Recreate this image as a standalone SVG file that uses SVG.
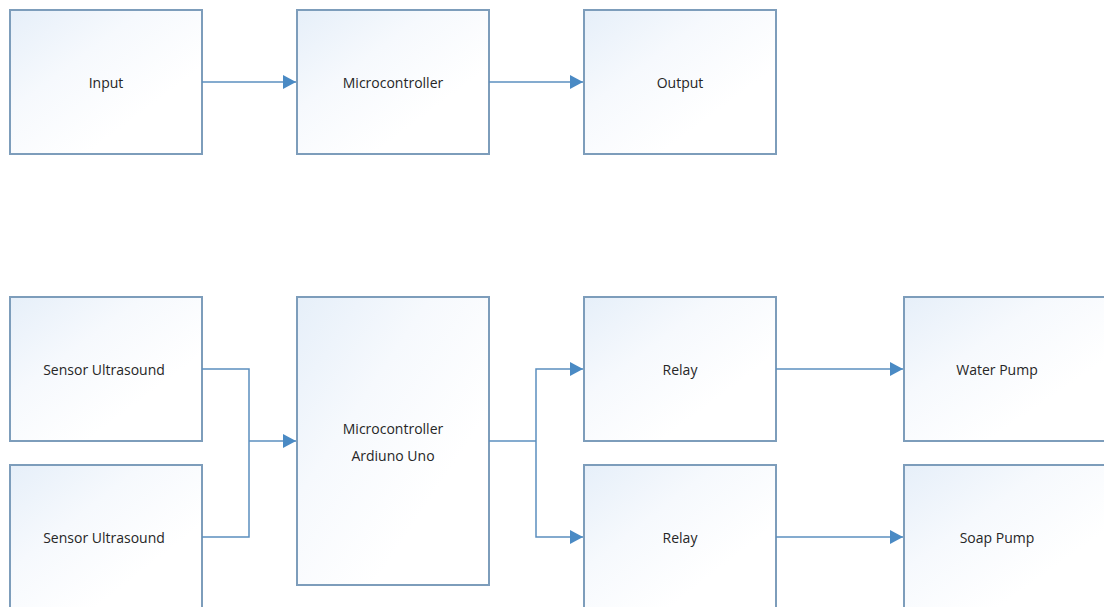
<svg xmlns="http://www.w3.org/2000/svg" width="1104" height="607" viewBox="0 0 1104 607">
<defs>
<linearGradient id="g" x1="0" y1="0" x2="1" y2="1">
<stop offset="0" stop-color="#e6eff9"/>
<stop offset="0.35" stop-color="#f6f9fd"/>
<stop offset="0.7" stop-color="#ffffff"/>
</linearGradient>
<marker id="arr" markerWidth="14" markerHeight="14" refX="13" refY="7" orient="auto" markerUnits="userSpaceOnUse">
<path d="M0,0 L13,7 L0,14 Z" fill="#4a8ac4"/>
</marker>
<style>
.box{fill:url(#g);stroke:#7d9dbb;stroke-width:2}
.t{font-family:"Open Sans","Liberation Sans",sans-serif;font-size:14px;fill:#262626;text-anchor:middle;dominant-baseline:central}
.c{fill:none;stroke:#5b8fbf;stroke-width:1.5}
</style>
</defs>
<rect width="1104" height="607" fill="#ffffff"/>
<g id="input"><rect class="box" x="10" y="10" width="192" height="144"/><text class="t" x="106" y="82">Input</text></g>
<g id="micro-top"><rect class="box" x="297" y="10" width="192" height="144"/><text class="t" x="393" y="82">Microcontroller</text></g>
<g id="output"><rect class="box" x="584" y="10" width="192" height="144"/><text class="t" x="680" y="82">Output</text></g>
<g id="sensor1"><rect class="box" x="10" y="297" width="192" height="144"/><text class="t" x="104" y="369">Sensor Ultrasound</text></g>
<g id="sensor2"><rect class="box" x="10" y="465" width="192" height="150"/><text class="t" x="104" y="537">Sensor Ultrasound</text></g>
<g id="arduino"><rect class="box" x="297" y="297" width="192" height="288"/><text class="t" x="393" y="428">Microcontroller</text><text class="t" x="393" y="455">Ardiuno Uno</text></g>
<g id="relay1"><rect class="box" x="584" y="297" width="192" height="144"/><text class="t" x="680" y="369">Relay</text></g>
<g id="relay2"><rect class="box" x="584" y="465" width="192" height="150"/><text class="t" x="680" y="537">Relay</text></g>
<g id="waterpump"><rect class="box" x="904" y="297" width="210" height="144"/><text class="t" x="997" y="369">Water Pump</text></g>
<g id="soappump"><rect class="box" x="904" y="465" width="210" height="150"/><text class="t" x="997" y="537">Soap Pump</text></g>
<g id="connectors">
<path class="c" d="M202,82 H296" marker-end="url(#arr)"/>
<path class="c" d="M489,82 H583" marker-end="url(#arr)"/>
<path class="c" d="M202,369 H249 V537 H202"/>
<path class="c" d="M249,441 H296" marker-end="url(#arr)"/>
<path class="c" d="M489,441 H536"/>
<path class="c" d="M536,441 V369 H583" marker-end="url(#arr)"/>
<path class="c" d="M536,441 V537 H583" marker-end="url(#arr)"/>
<path class="c" d="M776,369 H903" marker-end="url(#arr)"/>
<path class="c" d="M776,537 H903" marker-end="url(#arr)"/>
</g>
</svg>
